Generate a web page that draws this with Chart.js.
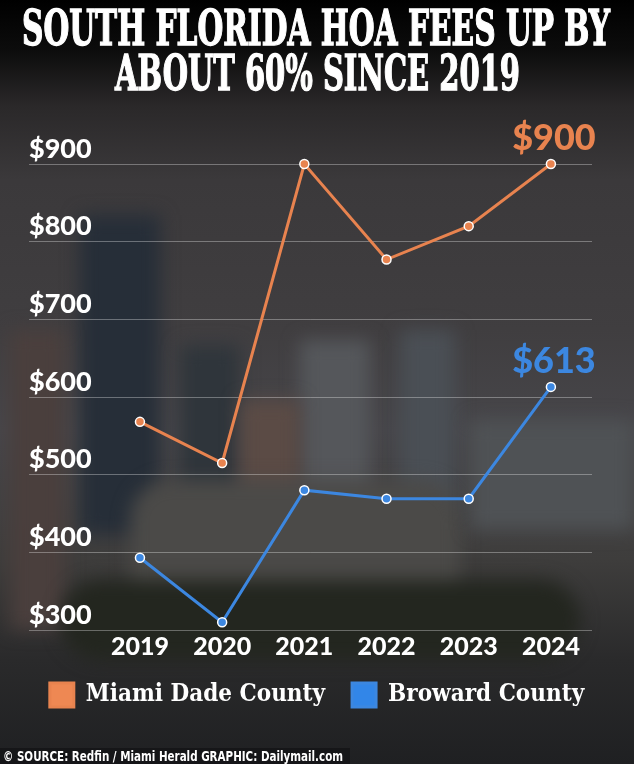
<!DOCTYPE html>
<html>
<head>
<meta charset="utf-8">
<script src="https://cdn.jsdelivr.net/npm/chart.js@4.4.1/dist/chart.umd.min.js"></script>
<style>
  html, body { margin: 0; padding: 0; }
  body {
    width: 634px; height: 764px; position: relative; overflow: hidden;
    background: linear-gradient(to bottom, #000 0px, #0c0c0c 50px, #2a2829 105px, #3b393b 180px,
      #403e40 330px, #47464a 430px, #3e3d3c 560px, #2a2a2b 660px, #1f2022 764px);
  }
  #bg { position: absolute; inset: 0; z-index: 0; }
  #bg div { position: absolute; filter: blur(9px); }
  #title {
    position: absolute; top: 0; left: 0; width: 634px; height: 100px; z-index: 2;
    color: #fff; font-family: 'DejaVu Serif Condensed', 'DejaVu Serif', serif;
    font-weight: bold; font-size: 48px; -webkit-text-stroke: 1.3px #fff;
  }
  .fit { position: absolute; white-space: nowrap; transform-origin: 0 0; line-height: 1; }
  #chartWrap { position: absolute; top: 0; left: 0; width: 634px; height: 764px; z-index: 1; }
  #sourceBox {
    position: absolute; left: 0; bottom: 0; z-index: 2; width: 350px; height: 16px;
    background: rgba(20, 20, 22, 0.85);
  }
  #source {
    color: #fff; font-family: 'Liberation Sans Narrow', 'DejaVu Sans Condensed', sans-serif;
    font-weight: bold; font-size: 14px; line-height: 16px;
  }
</style>
</head>
<body>
<div id="bg">
  <div style="left:80px;top:215px;width:80px;height:320px;background:#262e38;"></div>
  <div style="left:10px;top:330px;width:55px;height:300px;background:#4a3f3d;"></div>
  <div style="left:180px;top:345px;width:60px;height:160px;background:#2f353b;"></div>
  <div style="left:300px;top:340px;width:70px;height:200px;background:#55575b;"></div>
  <div style="left:400px;top:330px;width:55px;height:180px;background:#4a4f55;"></div>
  <div style="left:240px;top:400px;width:60px;height:120px;background:#5b4b45;"></div>
  <div style="left:130px;top:480px;width:330px;height:140px;background:#4b4a48;border-radius:40px;"></div>
  <div style="left:60px;top:580px;width:520px;height:80px;background:#23261f;border-radius:60px;"></div>
  <div style="left:470px;top:420px;width:164px;height:110px;background:#4f5255;"></div>
</div>
<div id="title">
  <span class="fit" data-left="22" data-top="4" data-width="588">SOUTH FLORIDA HOA FEES UP BY</span>
  <span class="fit" data-left="115" data-top="49" data-width="405">ABOUT 60% SINCE 2019</span>
</div>
<div id="chartWrap"><canvas id="hoaChart"></canvas></div>
<div id="sourceBox">
  <span id="source" class="fit" data-left="3" data-top="0" data-width="340">© SOURCE: Redfin / Miami Herald GRAPHIC: Dailymail.com</span>
</div>
<script>
// HOA monthly fees by year
const years = [2019, 2020, 2021, 2022, 2023, 2024];
const miamiDade = [568, 515, 900, 777, 820, 900];
const broward = [393, 310, 480, 469, 469, 613];
const yTicks = [300, 400, 500, 600, 700, 800, 900];

const orange = '#e8834f';
const blue = '#3c87e0';

// stretch the heavy text lines to the width they have in the graphic
document.querySelectorAll('.fit').forEach(el => {
  const w = el.getBoundingClientRect().width;
  el.style.left = el.dataset.left + 'px';
  el.style.top = el.dataset.top + 'px';
  el.style.transform = `scaleX(${el.dataset.width / w})`;
});

const endLabels = {
  id: 'endLabels',
  afterDatasetsDraw(chart) {
    const ctx = chart.ctx;
    chart.data.datasets.forEach((ds, i) => {
      const meta = chart.getDatasetMeta(i);
      const pt = meta.data[meta.data.length - 1];
      const last = ds.data[ds.data.length - 1];
      ctx.save();
      ctx.font = '900 36px Lato';
      ctx.fillStyle = ds.borderColor;
      ctx.textAlign = 'center';
      ctx.textBaseline = 'alphabetic';
      ctx.fillText('$' + last.y, pt.x + 3, pt.y - 14);
      ctx.restore();
    });
  }
};

const toPoints = vals => vals.map((v, i) => ({ x: years[i], y: v }));

const ctx = document.getElementById('hoaChart').getContext('2d');
new Chart(ctx, {
  type: 'line',
  data: {
    datasets: [{
      label: 'Miami Dade County',
      data: toPoints(miamiDade),
      borderColor: orange,
      backgroundColor: '#ee8853',
      borderWidth: 3,
      pointBackgroundColor: orange,
      pointBorderColor: '#fff',
      pointBorderWidth: 1.5,
      pointRadius: 4.5,
      clip: false
    }, {
      label: 'Broward County',
      data: toPoints(broward),
      borderColor: blue,
      backgroundColor: '#3286e8',
      borderWidth: 3,
      pointBackgroundColor: blue,
      pointBorderColor: '#fff',
      pointBorderWidth: 1.5,
      pointRadius: 4.5,
      clip: false
    }]
  },
  options: {
    responsive: true,
    maintainAspectRatio: false,
    animation: false,
    layout: { padding: { top: 164, left: 0, right: 0, bottom: 47 } },
    plugins: {
      legend: {
        position: 'bottom',
        labels: {
          color: '#fff',
          boxWidth: 24,
          boxHeight: 24,
          padding: 27,
          font: { family: "'DejaVu Serif Condensed', 'DejaVu Serif', serif", weight: 'bold', size: 24 }
        }
      },
      tooltip: { enabled: false }
    },
    scales: {
      x: {
        type: 'linear',
        min: 2017.65,
        max: 2024.5,
        afterBuildTicks: axis => { axis.ticks = years.map(v => ({ value: v })); },
        afterFit: axis => { axis.height = 26; },
        grid: { display: false, drawTicks: false },
        border: { display: false },
        ticks: {
          color: '#fff',
          padding: 2,
          autoSkip: false,
          maxRotation: 0,
          font: { family: 'Lato', weight: 900, size: 25 },
          callback: v => String(v)
        }
      },
      y: {
        min: 300,
        max: 900,
        afterBuildTicks: axis => { axis.ticks = yTicks.map(v => ({ value: v })); },
        afterFit: axis => { axis.width = 29; },
        grid: { color: 'rgba(255,255,255,0.32)', lineWidth: 1, drawTicks: false },
        border: { display: false },
        ticks: {
          mirror: true,
          padding: 0,
          labelOffset: -15,
          color: '#fff',
          font: { family: 'Lato', weight: 900, size: 27 },
          callback: v => '$' + v
        }
      },
      yRight: {
        position: 'right',
        afterFit: axis => { axis.width = 42; },
        grid: { display: false, drawTicks: false },
        border: { display: false },
        ticks: { display: false }
      }
    }
  },
  plugins: [endLabels]
});
</script>
</body>
</html>
